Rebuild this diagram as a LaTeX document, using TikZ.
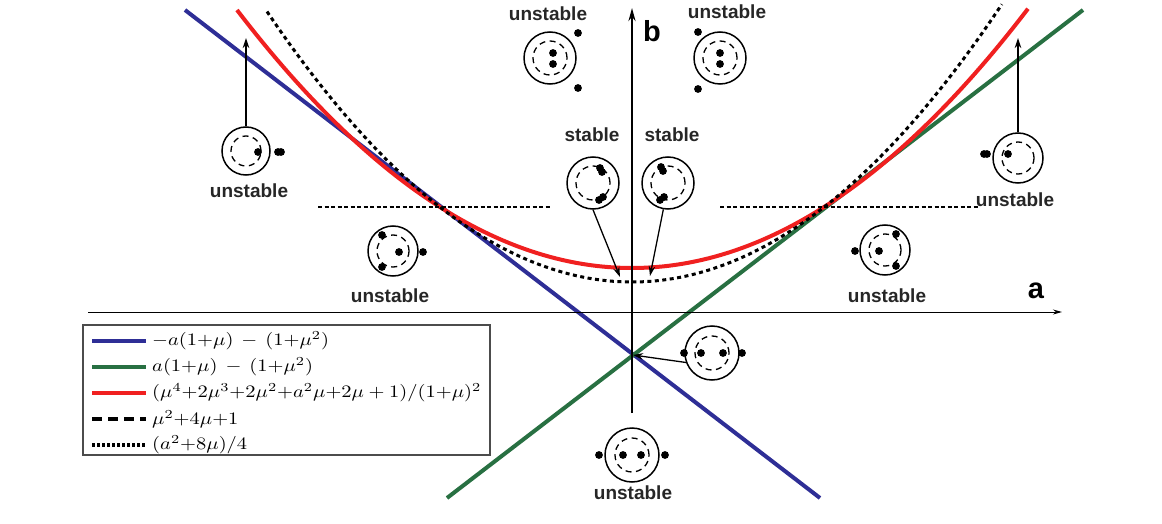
\documentclass[tikz,border=0pt]{standalone}
\usepackage{graphicx}
\usepackage{fontspec}
\setsansfont{Liberation Sans}
\usetikzlibrary{arrows.meta,calc}
\definecolor{cblue}{RGB}{46,46,150}
\definecolor{cgreen}{RGB}{40,112,66}
\definecolor{cred}{RGB}{240,32,32}
\newcommand\dotat[2]{\fill ($(#1)+(#2)$) circle[radius=3.9pt];}
\newcommand\legmath[1]{\scalebox{2.05}[1.75]{$#1$}}
\begin{document}
\begin{tikzpicture}[x=1pt,y=-1pt,
  lbl/.style={font=\sffamily\bfseries\fontsize{19}{21}\selectfont, text=black!85, inner sep=0},
  axlbl/.style={font=\sffamily\bfseries\fontsize{29}{31}\selectfont, inner sep=0},
  ring/.style={draw, circle, line width=1.5pt, inner sep=0, minimum size=#1},
  ring/.default=52pt,
  inring/.style={line width=1.3pt, dash pattern=on 6pt off 4.5pt},
  arr/.style={line width=1.3pt, -{Stealth[length=10pt,width=6.5pt]}},
  legtxt/.style={anchor=west, inner sep=0},
  curve/.style={line width=4pt},
]
\useasboundingbox (0,0) rectangle (1162,524);

% stability boundary lines
\draw[curve, cblue] (185,10) -- (820,498);
\draw[curve, cgreen] (447,498) -- (1083,10);
\draw[curve, cred] plot[domain=-3.95:3.96, samples=120] ({632+100*\x}, {268-16.536*\x*\x});
\draw[line width=3pt, dash pattern=on 4pt off 3.5pt] plot[domain=-3.65:3.70, samples=120] ({632+100*\x}, {282-20.3*\x*\x});
\draw[line width=2.6pt, dash pattern=on 4pt off 2.5pt] (318,207) -- (551,207);
\draw[line width=2.6pt, dash pattern=on 4pt off 2.5pt] (720,207) -- (978,207);

% axes
\coordinate (aS) at (88,312);
\coordinate (aE) at (1062,312);
\coordinate (bS) at (632,413);
\coordinate (bE) at (632,8);
\draw[line width=1pt, -{Stealth[length=9pt,width=5pt]}] (aS) -- (aE);
\draw[line width=2.6pt, -{Stealth[length=13pt,width=7pt]}] (bS) -- (bE);
\node[axlbl] (alab) at (1036,291) {a};
\node[axlbl] (blab) at (652,31) {b};

% top icons
\node[ring] (T1) at (550,58) {};
\draw[inring] (T1) circle[radius=17pt];
\dotat{T1}{3,-5}\dotat{T1}{3,6}\dotat{T1}{28,-25}\dotat{T1}{28,30}
\node[lbl] (lT1) at (548,14) {unstable};

\node[ring] (T2) at (720,58) {};
\draw[inring] (T2) circle[radius=17pt];
\dotat{T2}{0,-5}\dotat{T2}{0,6}\dotat{T2}{-22,-26}\dotat{T2}{-22,31}
\node[lbl] (lT2) at (727,12) {unstable};

% stable icons
\node[ring] (S1) at (593,183) {};
\draw[inring] (S1) circle[radius=17pt];
\dotat{S1}{7,-15}\dotat{S1}{9,-11}\dotat{S1}{6,17}\dotat{S1}{10,14}
\node[lbl] (lS1) at (592,135) {stable};

\node[ring] (S2) at (668,183) {};
\draw[inring] (S2) circle[radius=17pt];
\dotat{S2}{-7,-16}\dotat{S2}{-5,-12}\dotat{S2}{-8,17}\dotat{S2}{-4,14}
\node[lbl] (lS2) at (672,135) {stable};

\coordinate (s1t) at (620,277);
\coordinate (s2t) at (650,276);
\draw[arr] (S1.south) -- (s1t);
\draw[arr] (S2.260) -- (s2t);

% left unstable with arrow
\node[ring=48pt] (L1) at (246,151) {};
\draw[inring] (L1) circle[radius=15pt];
\dotat{L1}{12,1}\dotat{L1}{32,1}\dotat{L1}{35,1}
\node[lbl] (lL1) at (249,191) {unstable};
\coordinate (l1t) at (246,38);
\draw[arr] (L1.north) -- (l1t);

% right unstable with arrow
\node[ring=50pt] (R1) at (1018,158) {};
\draw[inring] (R1) circle[radius=16pt];
\dotat{R1}{-10,-4}\dotat{R1}{-31,-4}\dotat{R1}{-34,-4}
\node[lbl] (lR1) at (1015,200) {unstable};
\coordinate (r1t) at (1018,38);
\draw[arr] (R1.north) -- (r1t);

% lower left / right unstable
\node[ring=50pt] (LL) at (393,251) {};
\draw[inring] (LL) circle[radius=16pt];
\dotat{LL}{-11,-16}\dotat{LL}{6,1}\dotat{LL}{-11,16}\dotat{LL}{30,1}
\node[lbl] (lLL) at (390,296) {unstable};

\node[ring=50pt] (LR) at (885,250) {};
\draw[inring] (LR) circle[radius=16pt];
\dotat{LR}{11,-16}\dotat{LR}{-6,1}\dotat{LR}{11,16}\dotat{LR}{-30,1}
\node[lbl] (lLR) at (887,296) {unstable};

% middle right icon
\node[ring=54pt] (M) at (712,353) {};
\draw[inring] (M) circle[radius=17pt];
\dotat{M}{-11,0}\dotat{M}{11,0}\dotat{M}{-28,0}\dotat{M}{30,0}
\coordinate (mt) at (633,355);
\draw[arr] (M.200) -- (mt);

% bottom icon
\node[ring=54pt] (B) at (632,455) {};
\draw[inring] (B) circle[radius=17pt];
\dotat{B}{-9,0}\dotat{B}{9,0}\dotat{B}{-33,0}\dotat{B}{33,0}
\node[lbl] (lB) at (633,493) {unstable};

% legend
\node[draw=black!70, line width=1.2pt, fill=white, minimum width=407pt, minimum height=130pt, inner sep=0] (leg) at (286.5,390) {};
\draw[line width=4.5pt, cblue] (92,341) -- (146,341);
\draw[line width=4.5pt, cgreen] (92,367) -- (146,367);
\draw[line width=4.5pt, cred] (92,393) -- (146,393);
\draw[line width=4.5pt, dash pattern=on 10pt off 6pt] (92,419) -- (146,419);
\draw[line width=4.5pt, dash pattern=on 3pt off 2pt] (92,445) -- (146,445);
\node[legtxt] (t1) at (152,341) {\legmath{-a(1{+}\mu)\,-\,(1{+}\mu^2)}};
\node[legtxt] (t2) at (152,367) {\legmath{a(1{+}\mu)\,-\,(1{+}\mu^2)}};
\node[legtxt] (t3) at (152,393) {\legmath{(\mu^4{+}2\mu^3{+}2\mu^2{+}a^2\mu{+}2\mu + 1)/(1{+}\mu)^2}};
\node[legtxt] (t4) at (152,419) {\legmath{\mu^2{+}4\mu{+}1}};
\node[legtxt] (t5) at (152,445) {\legmath{(a^2{+}8\mu)/4}};
\end{tikzpicture}
\end{document}
